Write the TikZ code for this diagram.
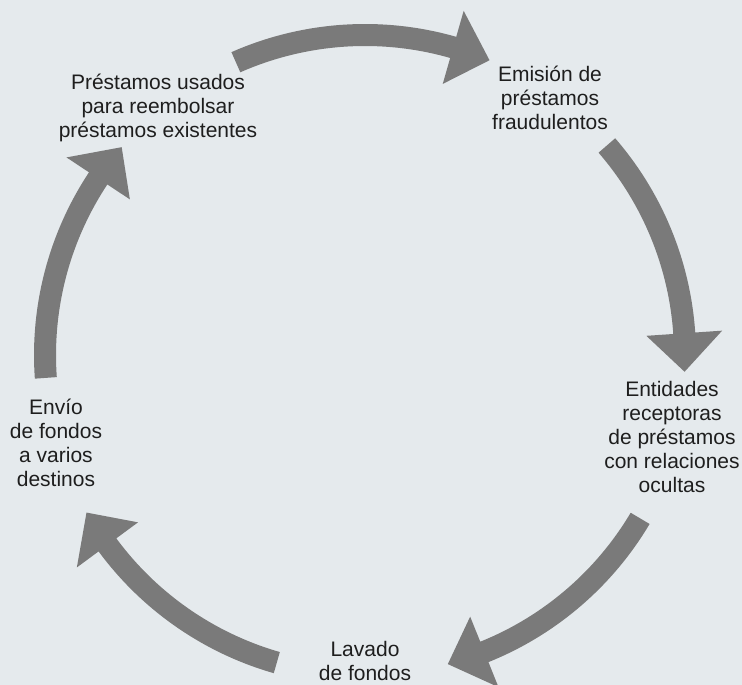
\documentclass[tikz,border=0pt]{standalone}
\usepackage{fontspec}
\setmainfont{Liberation Sans}
\definecolor{bgcol}{RGB}{229,234,237}
\definecolor{arrcol}{RGB}{122,122,122}
\definecolor{txtcol}{RGB}{30,30,30}
% one curved cycle arrow: tail angle, head-base angle, tip angle (clockwise)
\newcommand{\cyclearrow}[3]{%
  \fill[cycarrow] (#1:331) arc[start angle=#1,end angle=#2,radius=331]
    -- (#2:358) -- (#3:320) -- (#2:282) -- (#2:309)
    arc[start angle=#2,end angle=#1,radius=309] -- cycle;}
\begin{document}
\begin{tikzpicture}[x=1pt,y=1pt,
  lbl/.style={font=\fontsize{21}{24}\selectfont, text=txtcol, align=center,
              inner sep=0pt, anchor=north},
  cycarrow/.style={fill=arrcol}]
\fill[bgcol] (0,0) rectangle (742,-685);
\useasboundingbox (0,0) rectangle (742,-685);

\node[lbl] (reuse) at (158,-74) {Préstamos usados\\para reembolsar\\préstamos existentes};
\node[lbl] (issue) at (550,-65.5) {Emisión de\\préstamos\\fraudulentos};
\node[lbl] (recv) at (672,-381.5) {Entidades\\receptoras\\de préstamos\\con relaciones\\ocultas};
\node[lbl] (wash) at (365,-641.5) {Lavado\\de fondos};
\node[lbl] (send) at (56,-398.5) {Envío\\de fondos\\a varios\\destinos};

\begin{scope}[shift={(365,-355)}]
  \cyclearrow{113.8}{74.0}{67.1}
  \cyclearrow{40.9}{3.9}{-3.0}
  \cyclearrow{-30.7}{-68.1}{-75.0}
  \cyclearrow{254}{216.4}{209.5}
  \cyclearrow{184.1}{146.5}{139.5}
\end{scope}
\end{tikzpicture}
\end{document}
